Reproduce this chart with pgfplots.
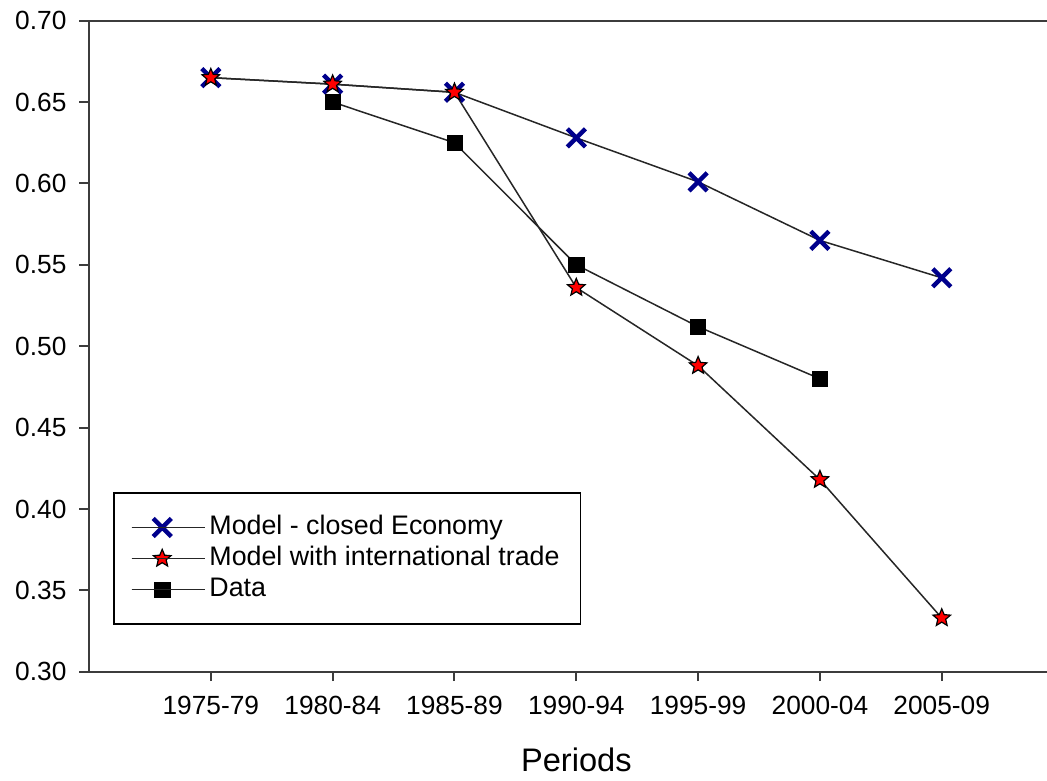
\documentclass[border=0pt]{standalone}
\usepackage{fontspec}
\setmainfont{Liberation Sans}
\usepackage{pgfplots}
\pgfplotsset{compat=1.18}
\definecolor{xblue}{RGB}{0,0,140}
\definecolor{axgray}{RGB}{60,60,60}
\pgfdeclareplotmark{fstar}{%
  \pgfpathmoveto{\pgfpointpolar{90}{\pgfplotmarksize}}%
  \pgfpathlineto{\pgfpointpolar{126}{0.45\pgfplotmarksize}}%
  \pgfpathlineto{\pgfpointpolar{162}{\pgfplotmarksize}}%
  \pgfpathlineto{\pgfpointpolar{198}{0.45\pgfplotmarksize}}%
  \pgfpathlineto{\pgfpointpolar{234}{\pgfplotmarksize}}%
  \pgfpathlineto{\pgfpointpolar{270}{0.45\pgfplotmarksize}}%
  \pgfpathlineto{\pgfpointpolar{306}{\pgfplotmarksize}}%
  \pgfpathlineto{\pgfpointpolar{342}{0.45\pgfplotmarksize}}%
  \pgfpathlineto{\pgfpointpolar{18}{\pgfplotmarksize}}%
  \pgfpathlineto{\pgfpointpolar{54}{0.45\pgfplotmarksize}}%
  \pgfpathclose
  \pgfusepathqfillstroke
}
\begin{document}
\begin{tikzpicture}
\begin{axis}[
  scale only axis, width=479pt, height=325.5pt,
  xmin=-1, xmax=6.864, ymin=0.30, ymax=0.70,
  axis x line*=box, axis y line*=left,
  axis line style={draw=axgray, line width=1pt, -},
  xtick pos=bottom,
  tick align=outside,
  major tick length=4.75pt,
  tick style={draw=axgray, line width=1pt},
  xtick={0,1,2,3,4,5,6},
  xticklabels={1975-79,1980-84,1985-89,1990-94,1995-99,2000-04,2005-09},
  ytick={0.30,0.35,0.40,0.45,0.50,0.55,0.60,0.65,0.70},
  /pgf/number format/fixed, /pgf/number format/fixed zerofill,
  /pgf/number format/precision=2, /pgf/number format/assume math mode=true,
  ticklabel style={font=\fontsize{13.15}{15}\selectfont, text=black},
  xticklabel style={yshift=-3.75pt},
  yticklabel style={xshift=-3pt},
  xlabel={Periods},
  xlabel style={font=\fontsize{16.3}{19}\selectfont, at={(rel axis cs:0.5087,0)}, anchor=north, yshift=-34.5pt},
  legend style={at={(rel axis cs:0.02505,0.2756)}, anchor=north west, draw=black, line width=0.75pt,
    font=\fontsize{13.4}{16}\selectfont, inner xsep=8.6pt, inner ysep=11pt, row sep=3pt,
    nodes={inner ysep=0pt, text height=9.7pt, text depth=2.8pt}},
  legend cell align=left,
  legend image code/.code={\draw[mark repeat=2, mark phase=2, #1] plot coordinates {(0pt,0pt) (15.25pt,0pt) (30.5pt,0pt)};
    \path (0pt,0pt) -- (36.5pt,0pt);},
]
\coordinate (ll) at (rel axis cs:0,0);
\coordinate (ur) at (rel axis cs:1,1);
\addplot[black!85, line width=0.75pt, mark=x, mark size=6.4pt, mark options={draw=xblue, line width=2.2pt}]
  coordinates {(0,0.665) (1,0.661) (2,0.656) (3,0.628) (4,0.601) (5,0.565) (6,0.542)};
\addlegendentry{Model - closed Economy}
\addplot[black!85, line width=0.75pt, mark=fstar, mark size=4.6pt, mark options={fill=red, draw=black, line width=0.6pt}]
  coordinates {(0,0.665) (1,0.661) (2,0.656) (3,0.536) (4,0.488) (5,0.418) (6,0.333)};
\addlegendentry{Model with international trade}
\addplot[black!85, line width=0.75pt, mark=square*, mark size=3.8pt, mark options={fill=black, draw=black, line width=0.3pt}]
  coordinates {(1,0.650) (2,0.625) (3,0.550) (4,0.512) (5,0.480)};
\addlegendentry{Data}
\end{axis}
\pgfresetboundingbox
\path ([xshift=-44.5pt,yshift=-54.15pt]ll) rectangle ([yshift=10.35pt]ur);
\end{tikzpicture}
\end{document}
